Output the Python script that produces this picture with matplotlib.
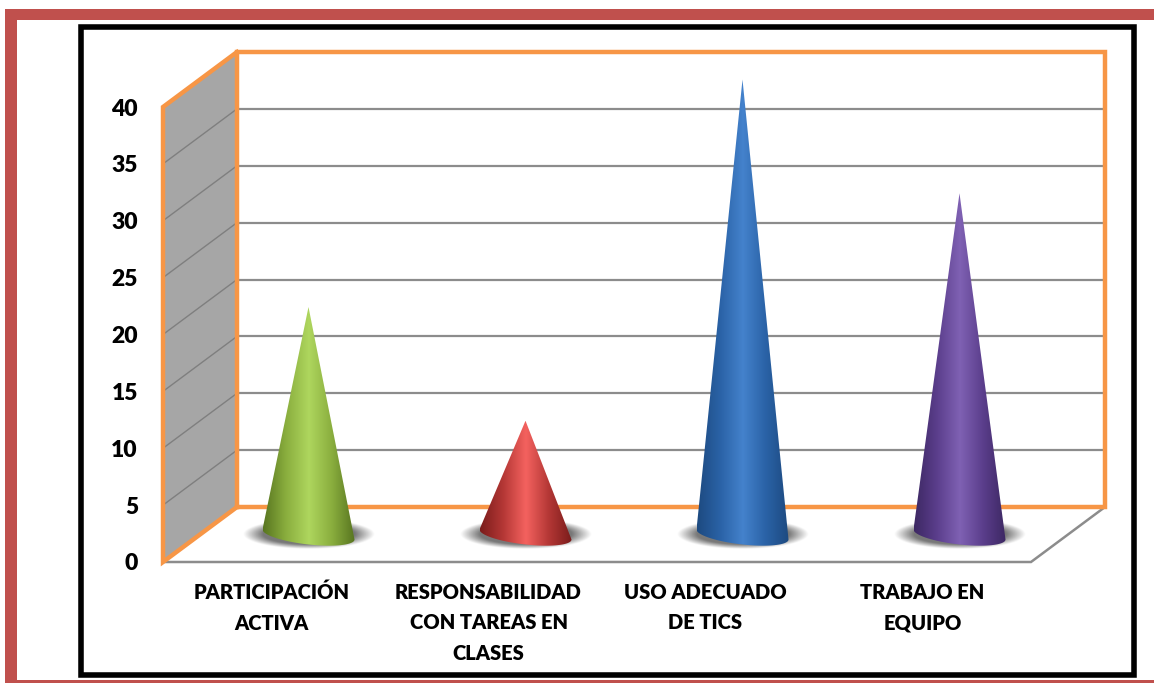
import numpy as np
import matplotlib
matplotlib.use("Agg")
import matplotlib.pyplot as plt
from matplotlib.colors import LinearSegmentedColormap
from matplotlib.patches import Polygon, Rectangle

categories = ["PARTICIPACIÓN\nACTIVA", "RESPONSABILIDAD\nCON TAREAS EN\nCLASES",
              "USO ADECUADO\nDE TICS", "TRABAJO EN\nEQUIPO"]
values = [20, 10, 40, 30]
y_ticks = [0, 5, 10, 15, 20, 25, 30, 35, 40]
cone_colors = [
    ["#587520", "#8aae3e", "#aed65e", "#8aae3e", "#587520"],
    ["#7a1c1b", "#b43735", "#f4625f", "#b43735", "#7a1c1b"],
    ["#1d4a80", "#2a62a6", "#4482cc", "#2a62a6", "#1d4a80"],
    ["#3d2863", "#5b3e8c", "#7f61b3", "#5b3e8c", "#3d2863"],
]

W, H = 1154, 683
ORANGE, GRID, WALL = "#f79646", "#8c8c8c", "#a6a6a6"
FONT = "Lato"
WEIGHT = "heavy"

fig = plt.figure(figsize=(W / 100, H / 100), dpi=100, facecolor="white")


def fig_rect(x0, y0, x1, y1, **kw):
    fig.add_artist(Rectangle((x0 / W, 1 - y1 / H), (x1 - x0) / W, (y1 - y0) / H,
                             transform=fig.transFigure, zorder=-1, **kw))


# outer red border and black frame
RED = "#c0504d"
fig_rect(5, 9, W, 20, fc=RED, ec="none")
fig_rect(5, 9, 17, 683, fc=RED, ec="none")
fig_rect(5, 680, W, 683, fc=RED, ec="none")
fig_rect(81, 27, 1134, 675, fc="white", ec="black", lw=4)

# axes cover the front plane of the 3D box
L, R, T, B = 163, 1031, 107, 562
ax = fig.add_axes([L / W, 1 - B / H, (R - L) / W, (B - T) / H])
ax.patch.set_visible(False)
for s in ax.spines.values():
    s.set_visible(False)
ax.set_xlim(-0.5, len(values) - 0.5)
ax.set_ylim(0, 40)
ux = (R - L) / len(values)
uy = (B - T) / 40
DX, DY = 74 / ux, 55 / uy
x0, x1 = -0.5, len(values) - 0.5
top = max(y_ticks)

# side wall
ax.add_patch(Polygon([(x0, 0), (x0 + DX, DY), (x0 + DX, top + DY), (x0, top)],
                     closed=True, fc=WALL, ec="none", clip_on=False, zorder=1))
# gridlines
for t in y_ticks:
    if 0 < t < top:
        ax.plot([x0, x0 + DX], [t, t + DY], color="#7f7f7f", lw=1.0, clip_on=False, zorder=2)
        ax.plot([x0 + DX, x1 + DX], [t + DY, t + DY], color=GRID, lw=1.6, clip_on=False, zorder=2)
# floor front edges
ax.plot([x0, x1, x1 + DX], [0, 0, DY], color=GRID, lw=1.8, clip_on=False, zorder=2,
        solid_joinstyle="miter")
# orange outlines
ax.plot([x0 + DX, x1 + DX, x1 + DX, x0 + DX, x0 + DX], [DY, DY, top + DY, top + DY, DY],
        color=ORANGE, lw=3.2, clip_on=False, zorder=3, solid_joinstyle="miter")
ax.plot([x0 + DX, x0, x0, x0 + DX], [DY, 0, top, top + DY],
        color=ORANGE, lw=3.2, clip_on=False, zorder=3, solid_joinstyle="miter")

# cones
a, b, shear = 46 / ux, 10 / uy, 5 / uy
sa, sb = 66 / ux, 15 / uy
for i, v in enumerate(values):
    cx, cy = i + DX / 2, DY / 2
    # soft shadow on the floor
    gx, gy = np.meshgrid(np.linspace(-1, 1, 200), np.linspace(-1, 1, 80))
    r = np.sqrt(gx ** 2 + gy ** 2)
    rgba = np.zeros(r.shape + (4,))
    rgba[..., :3] = 0.38
    rgba[..., 3] = np.clip((1 - r) / 0.3, 0, 1) * 0.85
    ax.imshow(rgba, extent=(cx - sa, cx + sa, cy - sb, cy + sb), origin="lower",
              aspect="auto", zorder=4, clip_on=False, interpolation="bilinear")
    # cone outline: tip plus the lower arc of the tilted base
    th = np.linspace(np.pi, 2 * np.pi, 60)
    arc_x = cx + a * np.cos(th)
    arc_y = cy + b * np.sin(th) - shear * np.cos(th)
    tip = (cx, cy + v)
    outline = np.vstack([[tip], np.column_stack([arc_x, arc_y])])
    cone = Polygon(outline, closed=True, transform=ax.transData, fc="none", ec="none")
    ax.add_patch(cone)
    cmap = LinearSegmentedColormap.from_list(f"c{i}", cone_colors[i])
    im = ax.imshow(np.linspace(0, 1, 256)[None, :], cmap=cmap,
                   extent=(cx - a, cx + a, arc_y.min(), tip[1]),
                   aspect="auto", zorder=5, interpolation="bilinear")
    im.set_clip_box(fig.bbox)
    im.set_clip_path(cone)
ax.set_xlim(-0.5, len(values) - 0.5)
ax.set_ylim(0, 40)

# axis labels
ax.set_yticks(y_ticks)
ax.set_yticklabels([str(t) for t in y_ticks], fontfamily=FONT, fontweight=WEIGHT,
                   fontsize=16.5, color="black")
ax.set_xticks(range(len(categories)))
ax.set_xticklabels(categories, fontfamily=FONT, fontweight=WEIGHT, fontsize=14.5,
                   color="black", linespacing=1.72, ma="center")
ax.tick_params(axis="y", length=0, pad=18)
ax.tick_params(axis="x", length=0, pad=15)

fig.savefig("out.png", dpi=100, facecolor="white")
